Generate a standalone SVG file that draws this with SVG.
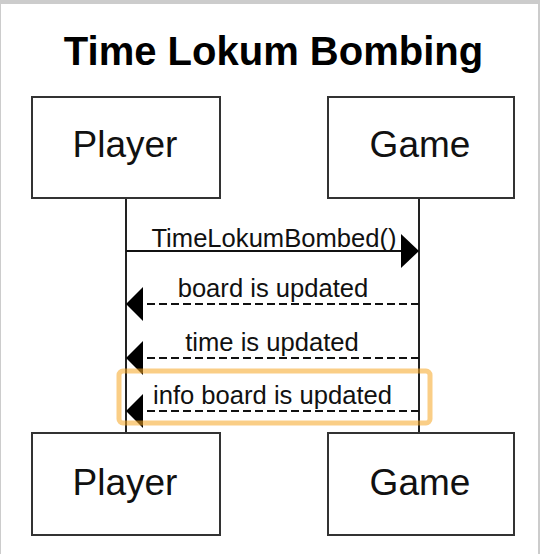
<svg xmlns="http://www.w3.org/2000/svg" width="540" height="554" viewBox="0 0 540 554">
  <defs>
    <style>
      .box { fill: #ffffff; stroke: #333333; stroke-width: 2; }
      .name { font-family: "Liberation Sans", Arial, sans-serif; font-size: 37px; fill: #111111; text-anchor: middle; }
      .title { font-family: "Liberation Sans", Arial, sans-serif; font-size: 40px; font-weight: bold; fill: #000000; text-anchor: middle; }
      .lbl { font-family: "Liberation Sans", Arial, sans-serif; font-size: 25.6px; fill: #111111; text-anchor: middle; }
      .life { stroke: #222222; stroke-width: 2; fill: none; }
      .msg { stroke: #111111; stroke-width: 2; fill: none; }
      .ret { stroke: #111111; stroke-width: 2; fill: none; stroke-dasharray: 8 4; }
      .head { fill: #000000; stroke: none; }
    </style>
  </defs>
  <rect x="0" y="0" width="540" height="554" fill="#cccccc"/>
  <rect x="1" y="4" width="537" height="550" fill="#ffffff"/>

  <text class="title" x="273.5" y="65">Time Lokum Bombing</text>

  <g id="connectors">
    <line class="life" x1="126" y1="198" x2="126" y2="433"/>
    <line class="life" x1="419" y1="198" x2="419" y2="433"/>

    <line class="msg" x1="126" y1="251" x2="402" y2="251"/>
    <polygon class="head" points="419,251 401,234 401,268"/>
    <text class="lbl" x="274" y="247">TimeLokumBombed()</text>

    <line class="ret" x1="419" y1="304" x2="143" y2="304"/>
    <polygon class="head" points="126,304 143,287 143,321"/>
    <text class="lbl" x="273" y="297">board is updated</text>

    <line class="ret" x1="419" y1="358" x2="143" y2="358"/>
    <polygon class="head" points="126,358 143,341 143,375"/>
    <text class="lbl" x="272" y="351">time is updated</text>

    <line class="ret" x1="419" y1="411" x2="143" y2="411"/>
    <polygon class="head" points="126,411 143,394 143,428"/>
    <text class="lbl" x="272.5" y="404">info board is updated</text>
  </g>

  <g id="player-top">
    <rect class="box" x="32" y="97" width="188" height="101"/>
    <text class="name" x="125" y="157">Player</text>
  </g>
  <g id="game-top">
    <rect class="box" x="328" y="97" width="186" height="101"/>
    <text class="name" x="420" y="157">Game</text>
  </g>
  <g id="player-bottom">
    <rect class="box" x="32" y="433" width="188" height="102"/>
    <text class="name" x="125" y="495">Player</text>
  </g>
  <g id="game-bottom">
    <rect class="box" x="328" y="433" width="186" height="102"/>
    <text class="name" x="420" y="495">Game</text>
  </g>

  <g id="highlight">
    <rect x="119" y="371" width="311" height="52" rx="4" ry="4" fill="none" stroke="#f5a623" stroke-opacity="0.55" stroke-width="5"/>
  </g>
</svg>
